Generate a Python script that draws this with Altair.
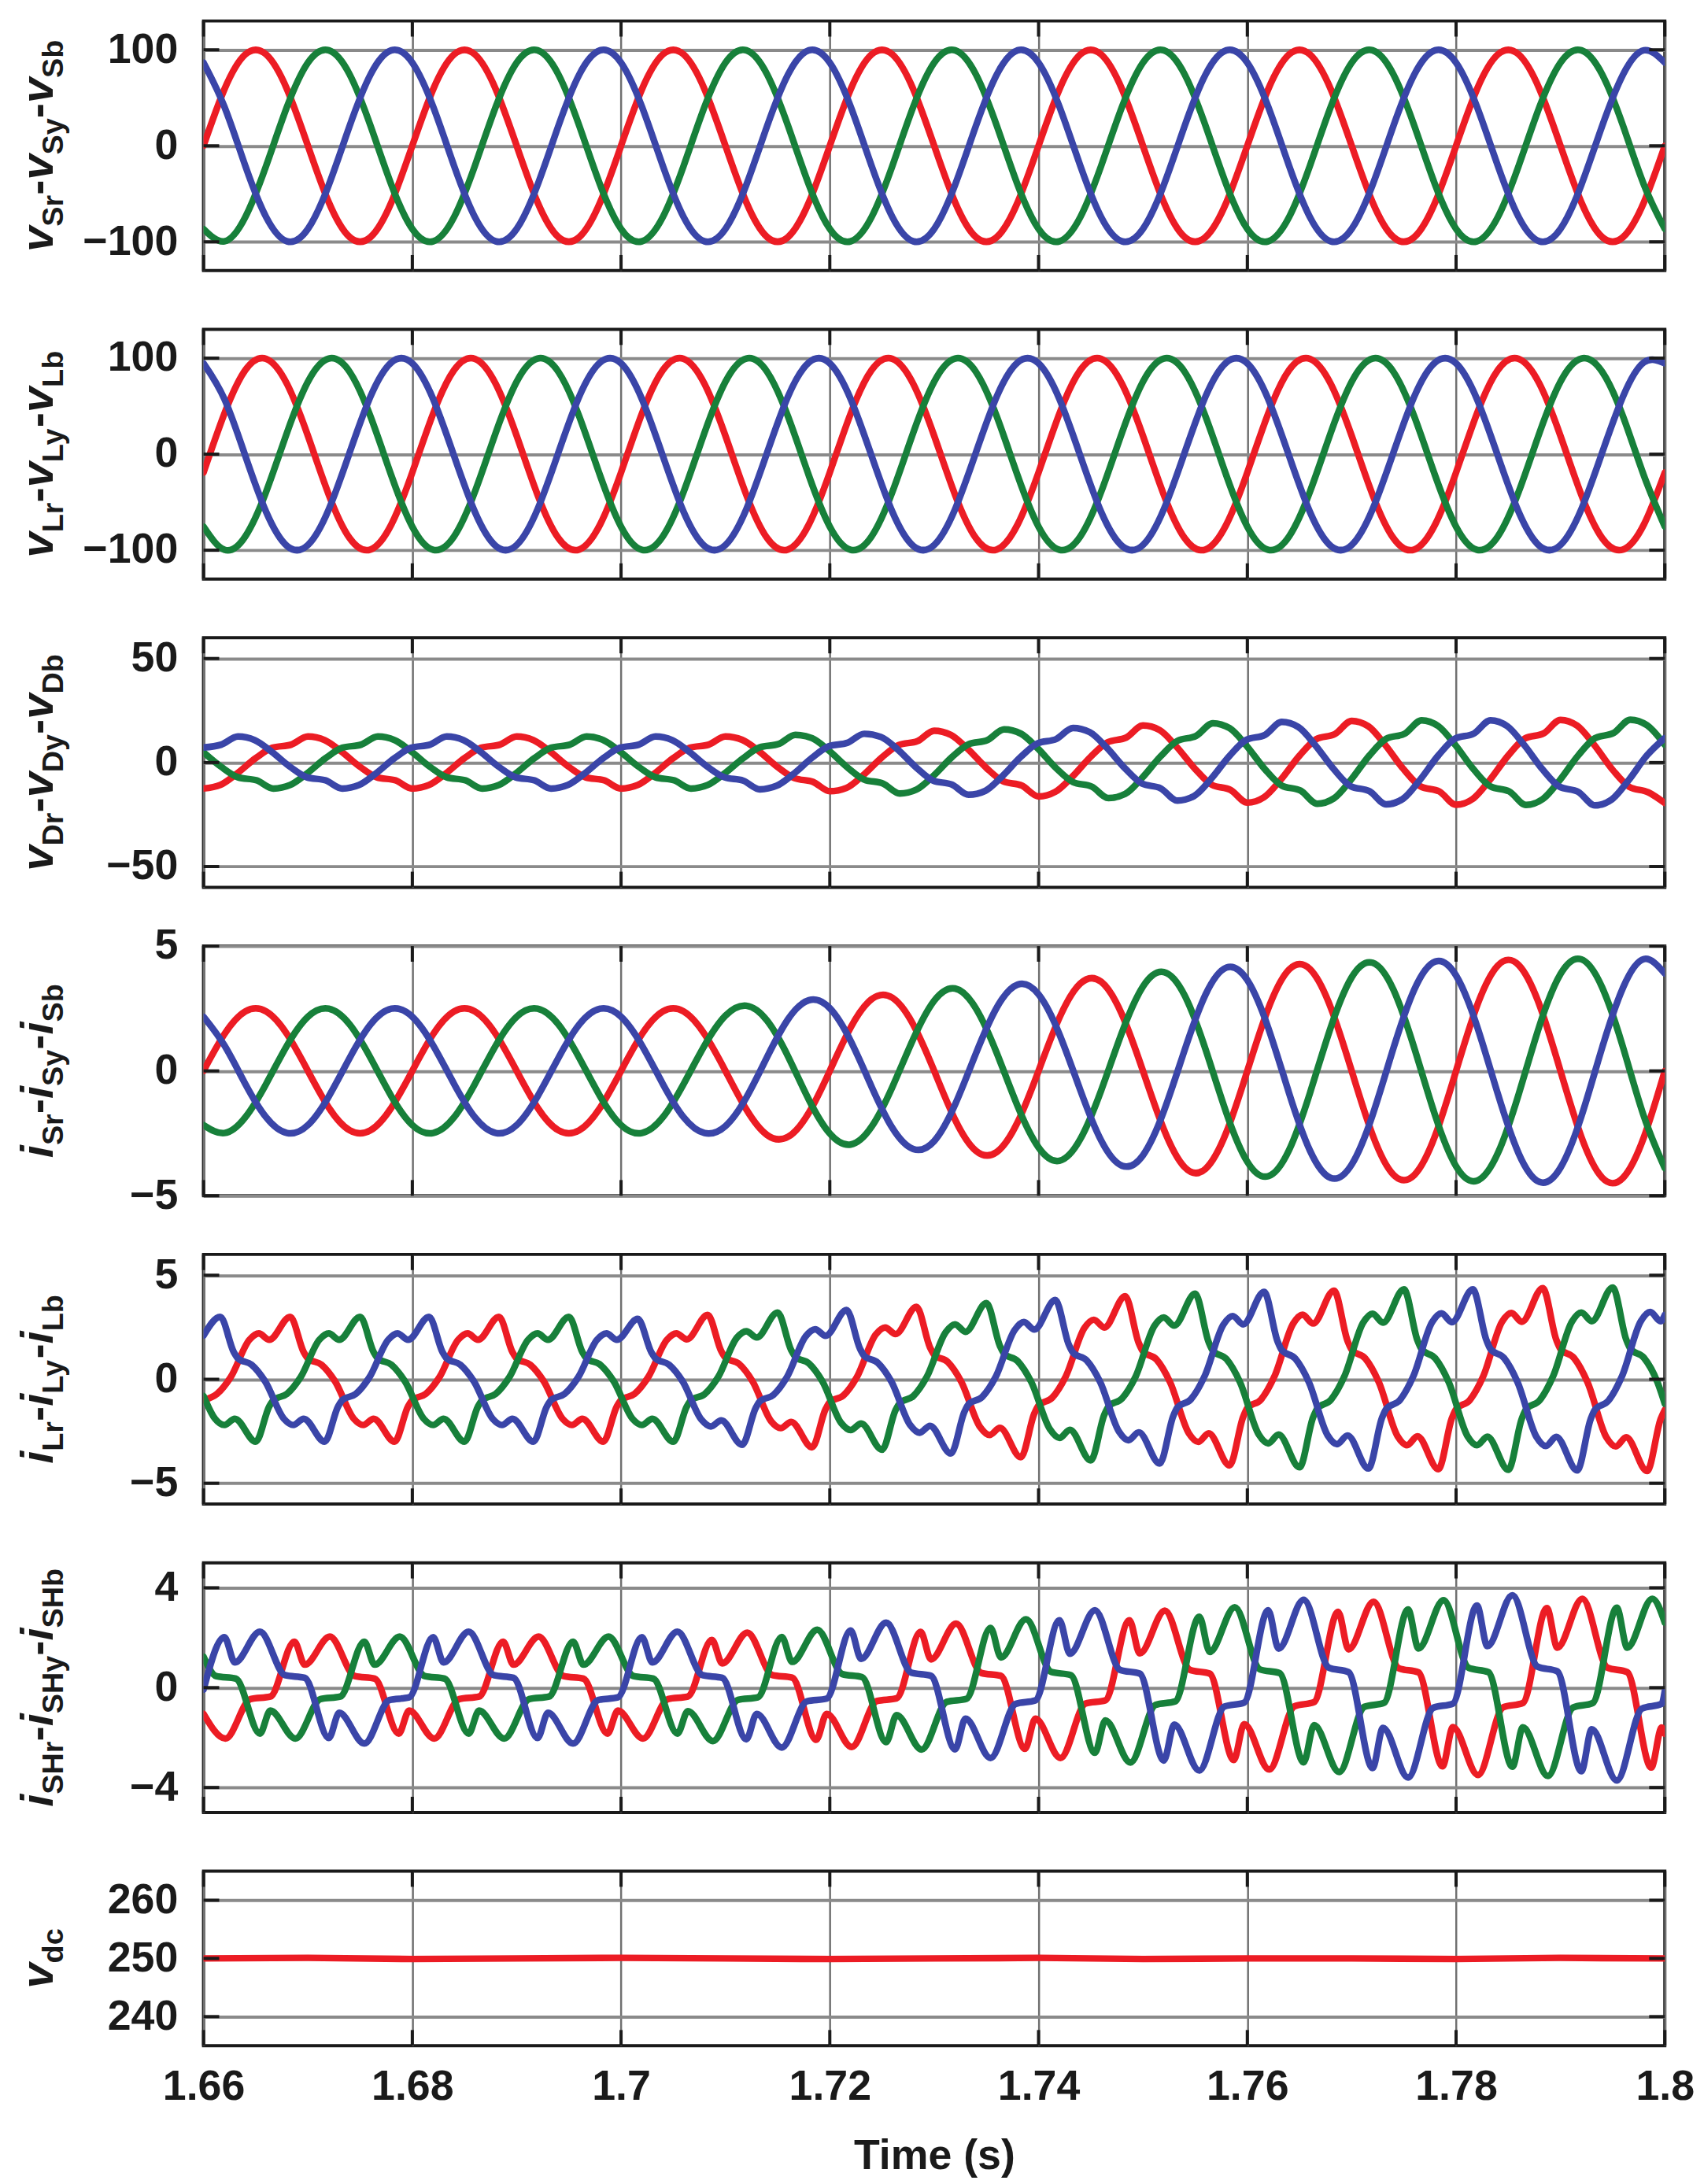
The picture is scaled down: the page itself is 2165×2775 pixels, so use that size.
import altair as alt
import pandas as pd

FONT = "Liberation Sans"
INK = "#1a1a1a"
RED, GREEN, BLUE = "#ec1c24", "#17803a", "#3a45a8"
GRID_X, GRID_Y = "#707070", "#8a8a8a"

T0 = 1.66
X_TICKS = [1.66, 1.68, 1.70, 1.72, 1.74, 1.76, 1.78, 1.80]

# ---------------- data (time in ms after 1.66 s) ----------------
T2_MS = [0, 2, 4, 6, 8, 10, 12, 14, 16, 18,
         20, 22, 24, 26, 28, 30, 32, 34, 36, 38,
         40, 42, 44, 46, 48, 50, 52, 54, 56, 58,
         60, 62, 64, 66, 68, 70, 72, 74, 76, 78,
         80, 82, 84, 86, 88, 90, 92, 94, 96, 98,
         100, 102, 104, 106, 108, 110, 112, 114, 116, 118,
         120, 122, 124, 126, 128, 130, 132, 134, 136, 138,
         140]

# source voltages vSr, vSy, vSb
VS_R = [0, 58.8, 95.1, 95.1, 58.8, 0, -58.8, -95.1, -95.1, -58.8,
        0, 58.8, 95.1, 95.1, 58.8, 0, -58.8, -95.1, -95.1, -58.8,
        0, 58.8, 95.1, 95.1, 58.8, 0, -58.8, -95.1, -95.1, -58.8,
        0, 58.8, 95.1, 95.1, 58.8, 0, -58.8, -95.1, -95.1, -58.8,
        0, 58.8, 95.1, 95.1, 58.8, 0, -58.8, -95.1, -95.1, -58.8,
        0, 58.8, 95.1, 95.1, 58.8, 0, -58.8, -95.1, -95.1, -58.8,
        0, 58.8, 95.1, 95.1, 58.8, 0, -58.8, -95.1, -95.1, -58.8,
        0]
VS_Y = [-86.6, -99.5, -74.3, -20.8, 40.7, 86.6, 99.5, 74.3, 20.8, -40.7,
        -86.6, -99.5, -74.3, -20.8, 40.7, 86.6, 99.5, 74.3, 20.8, -40.7,
        -86.6, -99.5, -74.3, -20.8, 40.7, 86.6, 99.5, 74.3, 20.8, -40.7,
        -86.6, -99.5, -74.3, -20.8, 40.7, 86.6, 99.5, 74.3, 20.8, -40.7,
        -86.6, -99.5, -74.3, -20.8, 40.7, 86.6, 99.5, 74.3, 20.8, -40.7,
        -86.6, -99.5, -74.3, -20.8, 40.7, 86.6, 99.5, 74.3, 20.8, -40.7,
        -86.6, -99.5, -74.3, -20.8, 40.7, 86.6, 99.5, 74.3, 20.8, -40.7,
        -86.6]
VS_B = [86.6, 40.7, -20.8, -74.3, -99.5, -86.6, -40.7, 20.8, 74.3, 99.5,
        86.6, 40.7, -20.8, -74.3, -99.5, -86.6, -40.7, 20.8, 74.3, 99.5,
        86.6, 40.7, -20.8, -74.3, -99.5, -86.6, -40.7, 20.8, 74.3, 99.5,
        86.6, 40.7, -20.8, -74.3, -99.5, -86.6, -40.7, 20.8, 74.3, 99.5,
        86.6, 40.7, -20.8, -74.3, -99.5, -86.6, -40.7, 20.8, 74.3, 99.5,
        86.6, 40.7, -20.8, -74.3, -99.5, -86.6, -40.7, 20.8, 74.3, 99.5,
        86.6, 40.7, -20.8, -74.3, -99.5, -86.6, -40.7, 20.8, 74.3, 99.5,
        86.6]

# load voltages vLr, vLy, vLb
VL_R = [-19.1, 42.3, 87.5, 99.3, 73.1, 19.1, -42.3, -87.5, -99.3, -73.1,
        -19.1, 42.3, 87.5, 99.3, 73.1, 19.1, -42.3, -87.5, -99.3, -73.1,
        -19.1, 42.3, 87.5, 99.3, 73.1, 19.1, -42.3, -87.5, -99.3, -73.1,
        -19.1, 42.3, 87.5, 99.3, 73.1, 19.1, -42.3, -87.5, -99.3, -73.1,
        -19.1, 42.3, 87.5, 99.3, 73.1, 19.1, -42.3, -87.5, -99.3, -73.1,
        -19.1, 42.3, 87.5, 99.3, 73.1, 19.1, -42.3, -87.5, -99.3, -73.1,
        -19.1, 42.3, 87.5, 99.3, 73.1, 19.1, -42.3, -87.5, -99.3, -73.1,
        -19.1]
VL_Y = [-75.5, -99.6, -85.7, -39.1, 22.5, 75.5, 99.6, 85.7, 39.1, -22.5,
        -75.5, -99.6, -85.7, -39.1, 22.5, 75.5, 99.6, 85.7, 39.1, -22.5,
        -75.5, -99.6, -85.7, -39.1, 22.5, 75.5, 99.6, 85.7, 39.1, -22.5,
        -75.5, -99.6, -85.7, -39.1, 22.5, 75.5, 99.6, 85.7, 39.1, -22.5,
        -75.5, -99.6, -85.7, -39.1, 22.5, 75.5, 99.6, 85.7, 39.1, -22.5,
        -75.5, -99.6, -85.7, -39.1, 22.5, 75.5, 99.6, 85.7, 39.1, -22.5,
        -75.5, -99.6, -85.7, -39.1, 22.5, 75.5, 99.6, 85.7, 39.1, -22.5,
        -75.5]
VL_B = [94.6, 57.4, -1.7, -60.2, -95.6, -94.6, -57.4, 1.7, 60.2, 95.6,
        94.6, 57.4, -1.7, -60.2, -95.6, -94.6, -57.4, 1.7, 60.2, 95.6,
        94.6, 57.4, -1.7, -60.2, -95.6, -94.6, -57.4, 1.7, 60.2, 95.6,
        94.6, 57.4, -1.7, -60.2, -95.6, -94.6, -57.4, 1.7, 60.2, 95.6,
        94.6, 57.4, -1.7, -60.2, -95.6, -94.6, -57.4, 1.7, 60.2, 95.6,
        94.6, 57.4, -1.7, -60.2, -95.6, -94.6, -57.4, 1.7, 60.2, 95.6,
        94.6, 57.4, -1.7, -60.2, -95.6, -94.6, -57.4, 1.7, 60.2, 95.6,
        94.6]

# source currents iSr, iSy, iSb
IS_R = [0, 1.47, 2.38, 2.38, 1.47, 0, -1.47, -2.38, -2.38, -1.47,
        0, 1.47, 2.38, 2.38, 1.47, 0, -1.47, -2.38, -2.38, -1.47,
        0, 1.47, 2.38, 2.38, 1.47, 0, -1.54, -2.57, -2.64, -1.67,
        0, 1.74, 2.87, 2.93, 1.85, 0, -1.95, -3.2, -3.25, -2.05,
        0, 2.13, 3.5, 3.57, 2.25, 0, -2.34, -3.86, -3.92, -2.45,
        0, 2.49, 4.06, 4.08, 2.53, 0, -2.56, -4.16, -4.17, -2.59,
        0, 2.6, 4.22, 4.24, 2.63, 0, -2.64, -4.28, -4.28, -2.65,
        0]
IS_Y = [-2.17, -2.49, -1.86, -0.52, 1.02, 2.17, 2.49, 1.86, 0.52, -1.02,
        -2.17, -2.49, -1.86, -0.52, 1.02, 2.17, 2.49, 1.86, 0.52, -1.02,
        -2.17, -2.49, -1.86, -0.52, 1.02, 2.21, 2.61, 2.01, 0.58, -1.16,
        -2.51, -2.95, -2.24, -0.64, 1.28, 2.81, 3.3, 2.5, 0.71, -1.42,
        -3.07, -3.6, -2.73, -0.78, 1.55, 3.38, 3.96, 3.02, 0.86, -1.69,
        -3.64, -4.22, -3.17, -0.89, 1.75, 3.75, 4.33, 3.25, 0.91, -1.79,
        -3.82, -4.4, -3.3, -0.93, 1.82, 3.88, 4.47, 3.34, 0.94, -1.83,
        -3.9]
IS_B = [2.17, 1.02, -0.52, -1.86, -2.49, -2.17, -1.02, 0.52, 1.86, 2.49,
        2.17, 1.02, -0.52, -1.86, -2.49, -2.17, -1.02, 0.52, 1.86, 2.49,
        2.17, 1.02, -0.52, -1.86, -2.49, -2.21, -1.07, 0.56, 2.07, 2.83,
        2.51, 1.2, -0.63, -2.29, -3.13, -2.81, -1.35, 0.7, 2.54, 3.46,
        3.07, 1.47, -0.77, -2.79, -3.8, -3.38, -1.62, 0.84, 3.06, 4.14,
        3.64, 1.73, -0.89, -3.19, -4.29, -3.75, -1.77, 0.91, 3.26, 4.38,
        3.82, 1.8, -0.92, -3.31, -4.45, -3.88, -1.83, 0.94, 3.34, 4.48,
        3.9]

# series-compensator voltages vDr, vDy, vDb  [ms, value]
VD_R = [[0.0, -12.5], [1.6, -10.8], [3.2, -5.3], [5.0, 2.1], [6.6, 7.1], [8.4, 8.6], [10.0, 12.5], [11.6, 10.8], [13.2, 5.3], [15.0, -2.1], [16.6, -7.1], [18.4, -8.6],
        [20.0, -12.5], [21.6, -10.8], [23.2, -5.3], [25.0, 2.1], [26.6, 7.1], [28.4, 8.6], [30.0, 12.5], [31.6, 10.8], [33.2, 5.3], [35.0, -2.1], [36.6, -7.1], [38.4, -8.6],
        [40.0, -12.5], [41.6, -10.8], [43.2, -5.3], [45.0, 2.1], [46.6, 7.1], [48.4, 8.6], [50.0, 12.5], [51.6, 10.9], [53.2, 5.5], [55.0, -2.2], [56.6, -7.5], [58.4, -9.3],
        [60.0, -13.8], [61.6, -12.2], [63.2, -6.1], [65.0, 2.5], [66.6, 8.4], [68.4, 10.3], [70.0, 15.3], [71.6, 13.3], [73.2, 6.6], [75.0, -2.6], [76.6, -9.0], [78.4, -11.1],
        [80.0, -16.3], [81.6, -14.1], [83.2, -7.0], [85.0, 2.8], [86.6, 9.7], [88.4, 12.0], [90.0, 17.8], [91.6, 15.6], [93.2, 7.7], [95.0, -3.1], [96.6, -10.7], [98.4, -13.2],
        [100.0, -19.3], [101.6, -16.7], [103.2, -8.3], [105.0, 3.3], [106.6, 11.2], [108.4, 13.7], [110.0, 20.0], [111.6, 17.4], [113.2, 8.5], [115.0, -3.4], [116.6, -11.5], [118.4, -13.9],
        [120.0, -20.3], [121.6, -17.5], [123.2, -8.6], [125.0, 3.4], [126.6, 11.6], [128.4, 14.0], [130.0, 20.5], [131.6, 17.7], [133.2, 8.7], [135.0, -3.5], [136.6, -11.7], [138.4, -14.3],
        [140.0, -19.5]]
VD_Y = [[0.0, 4.9], [1.7, -2.1], [3.3, -7.1], [5.1, -8.6], [6.7, -12.5], [8.3, -10.8], [9.9, -5.3], [11.7, 2.1], [13.3, 7.1], [15.1, 8.6], [16.7, 12.5], [18.3, 10.8], [19.9, 5.3],
        [21.7, -2.1], [23.3, -7.1], [25.1, -8.6], [26.7, -12.5], [28.3, -10.8], [29.9, -5.3], [31.7, 2.1], [33.3, 7.1], [35.1, 8.6], [36.7, 12.5], [38.3, 10.8], [39.9, 5.3],
        [41.7, -2.1], [43.3, -7.1], [45.1, -8.6], [46.7, -12.5], [48.3, -10.8], [49.9, -5.3], [51.7, 2.1], [53.3, 7.3], [55.1, 8.9], [56.7, 13.3], [58.3, 11.7], [59.9, 5.8],
        [61.7, -2.4], [63.3, -8.2], [65.1, -10.1], [66.7, -14.9], [68.3, -13.0], [69.9, -6.5], [71.7, 2.6], [73.3, 8.8], [75.1, 10.8], [76.7, 15.9], [78.3, 13.9], [79.9, 6.9],
        [81.7, -2.8], [83.3, -9.4], [85.1, -11.6], [86.7, -17.1], [88.3, -15.1], [89.9, -7.5], [91.7, 3.0], [93.3, 10.4], [95.1, 12.8], [96.7, 18.9], [98.3, 16.5], [99.9, 8.2],
        [101.7, -3.3], [103.3, -11.1], [105.1, -13.5], [106.7, -19.8], [108.3, -17.2], [109.9, -8.5], [111.7, 3.4], [113.3, 11.4], [115.1, 13.9], [116.7, 20.3], [118.3, 17.5], [119.9, 8.6],
        [121.7, -3.4], [123.3, -11.5], [125.1, -13.9], [126.7, -20.4], [128.3, -17.6], [129.9, -8.7], [131.7, 3.4], [133.3, 11.7], [135.1, 14.2], [136.7, 20.6], [138.3, 17.9], [140.0, 8.5]]
VD_B = [[0.0, 7.2], [1.7, 8.6], [3.3, 12.5], [4.9, 10.8], [6.5, 5.3], [8.3, -2.1], [9.9, -7.1], [11.7, -8.6], [13.3, -12.5], [14.9, -10.8], [16.5, -5.3], [18.3, 2.1], [19.9, 7.1],
        [21.7, 8.6], [23.3, 12.5], [24.9, 10.8], [26.5, 5.3], [28.3, -2.1], [29.9, -7.1], [31.7, -8.6], [33.3, -12.5], [34.9, -10.8], [36.5, -5.3], [38.3, 2.1], [39.9, 7.1],
        [41.7, 8.6], [43.3, 12.5], [44.9, 10.8], [46.5, 5.3], [48.3, -2.1], [49.9, -7.1], [51.7, -8.7], [53.3, -12.9], [54.9, -11.2], [56.5, -5.6], [58.3, 2.3], [59.9, 7.8],
        [61.7, 9.5], [63.3, 13.8], [64.9, 12.3], [66.5, 6.3], [68.3, -2.5], [69.9, -8.7], [71.7, -10.6], [73.3, -15.5], [74.9, -13.6], [76.5, -6.7], [78.3, 2.7], [79.9, 9.2],
        [81.7, 11.3], [83.3, 16.6], [84.9, 14.6], [86.5, 7.3], [88.3, -2.9], [89.9, -10.1], [91.7, -12.4], [93.3, -18.3], [94.9, -16.1], [96.5, -8.0], [98.3, 3.2], [99.9, 10.9],
        [101.7, 13.3], [103.3, 19.5], [104.9, 17.0], [106.5, 8.4], [108.3, -3.3], [109.9, -11.4], [111.7, -13.8], [113.3, -20.1], [114.9, -17.5], [116.5, -8.6], [118.3, 3.4], [119.9, 11.5],
        [121.7, 13.9], [123.3, 20.3], [124.9, 17.5], [126.5, 8.6], [128.3, -3.4], [129.9, -11.6], [131.7, -14.1], [133.3, -20.6], [134.9, -17.8], [136.5, -8.7], [138.3, 3.5], [140.0, 11.8]]

# load currents iLr, iLy, iLb  [ms, value]
IL_R = [[0.0, -1.0], [1.3, -0.7], [2.6, 0.1], [4.4, 1.9], [5.3, 2.2], [6.3, 1.9], [8.3, 3.0], [9.6, 1.3], [10.0, 1.0], [11.3, 0.7], [12.6, -0.1], [14.4, -1.9], [15.3, -2.2], [16.3, -1.9], [18.3, -3.0], [19.6, -1.3],
        [20.0, -1.0], [21.3, -0.7], [22.6, 0.1], [24.4, 1.9], [25.3, 2.2], [26.3, 1.9], [28.3, 3.0], [29.6, 1.3], [30.0, 1.0], [31.3, 0.7], [32.6, -0.1], [34.4, -1.9], [35.3, -2.2], [36.3, -1.9], [38.3, -3.0], [39.6, -1.3],
        [40.0, -1.0], [41.3, -0.7], [42.6, 0.1], [44.4, 1.9], [45.3, 2.2], [46.3, 1.92], [48.3, 3.09], [49.6, 1.35], [50.0, 1.04], [51.3, 0.74], [52.6, -0.1], [54.4, -2.03], [55.3, -2.35], [56.3, -2.05], [58.3, -3.27], [59.6, -1.43],
        [60.0, -1.1], [61.3, -0.78], [62.6, 0.11], [64.4, 2.15], [65.3, 2.49], [66.3, 2.17], [68.3, 3.48], [69.6, 1.53], [70.0, 1.18], [71.3, 0.83], [72.6, -0.12], [74.4, -2.3], [75.3, -2.68], [76.3, -2.34], [78.3, -3.75], [79.6, -1.64],
        [80.0, -1.26], [81.3, -0.89], [82.6, 0.13], [84.4, 2.47], [85.3, 2.86], [86.3, 2.49], [88.3, 3.99], [89.6, 1.74], [90.0, 1.34], [91.3, 0.95], [92.6, -0.14], [94.4, -2.6], [95.3, -3.01], [96.3, -2.6], [98.3, -4.14], [99.6, -1.81],
        [100.0, -1.39], [101.3, -0.98], [102.6, 0.14], [104.4, 2.68], [105.3, 3.1], [106.3, 2.68], [108.3, 4.26], [109.6, 1.85], [110.0, 1.42], [111.3, 1.0], [112.6, -0.14], [114.4, -2.74], [115.3, -3.17], [116.3, -2.74], [118.3, -4.32], [119.6, -1.87],
        [120.0, -1.44], [121.3, -1.01], [122.6, 0.14], [124.4, 2.76], [125.3, 3.19], [126.3, 2.76], [128.3, 4.38], [129.6, 1.9], [130.0, 1.46], [131.3, 1.02], [132.6, -0.15], [134.4, -2.79], [135.3, -3.23], [136.3, -2.79], [138.3, -4.41], [139.6, -1.91],
        [140.0, -1.47]]
IL_Y = [[0.0, -0.8], [1.1, -1.9], [2.0, -2.2], [3.0, -1.9], [5.0, -3.0], [6.3, -1.3], [6.7, -1.0], [8.0, -0.7], [9.3, 0.1], [11.1, 1.9], [12.0, 2.2], [13.0, 1.9], [15.0, 3.0], [16.3, 1.3], [16.7, 1.0], [18.0, 0.7], [19.3, -0.1],
        [21.1, -1.9], [22.0, -2.2], [23.0, -1.9], [25.0, -3.0], [26.3, -1.3], [26.7, -1.0], [28.0, -0.7], [29.3, 0.1], [31.1, 1.9], [32.0, 2.2], [33.0, 1.9], [35.0, 3.0], [36.3, 1.3], [36.7, 1.0], [38.0, 0.7], [39.3, -0.1],
        [41.1, -1.9], [42.0, -2.2], [43.0, -1.9], [45.0, -3.0], [46.3, -1.31], [46.7, -1.01], [48.0, -0.72], [49.3, 0.1], [51.1, 2.0], [52.0, 2.31], [53.0, 2.01], [55.0, 3.21], [56.3, 1.4], [56.7, 1.08], [58.0, 0.76], [59.3, -0.11],
        [61.1, -2.11], [62.0, -2.44], [63.0, -2.13], [65.0, -3.39], [66.3, -1.48], [66.7, -1.15], [68.0, -0.81], [69.3, 0.12], [71.1, 2.26], [72.0, 2.64], [73.0, 2.28], [75.0, 3.66], [76.3, 1.6], [76.7, 1.23], [78.0, 0.87], [79.3, -0.13],
        [81.1, -2.41], [82.0, -2.82], [83.0, -2.43], [85.0, -3.9], [86.3, -1.7], [86.7, -1.31], [88.0, -0.92], [89.3, 0.13], [91.1, 2.57], [92.0, 2.97], [93.0, 2.58], [95.0, 4.11], [96.3, 1.78], [96.7, 1.37], [98.0, 0.97], [99.3, -0.14],
        [101.1, -2.66], [102.0, -3.08], [103.0, -2.66], [105.0, -4.23], [106.3, -1.83], [106.7, -1.41], [108.0, -0.99], [109.3, 0.14], [111.1, 2.72], [112.0, 3.15], [113.0, 2.72], [115.0, 4.32], [116.3, 1.87], [116.7, 1.44], [118.0, 1.01], [119.3, -0.14],
        [121.1, -2.74], [122.0, -3.17], [123.0, -2.76], [125.0, -4.35], [126.3, -1.89], [126.7, -1.45], [128.0, -1.02], [129.3, 0.15], [131.1, 2.77], [132.0, 3.21], [133.0, 2.79], [135.0, 4.41], [136.3, 1.91], [136.7, 1.47], [138.0, 1.03], [139.3, -0.15],
        [140.0, -1.18]]
IL_B = [[0.0, 2.1], [1.6, 3.0], [2.9, 1.3], [3.3, 1.0], [4.6, 0.7], [5.9, -0.1], [7.7, -1.9], [8.6, -2.2], [9.6, -1.9], [11.6, -3.0], [12.9, -1.3], [13.3, -1.0], [14.6, -0.7], [15.9, 0.1], [17.7, 1.9], [18.6, 2.2], [19.6, 1.9],
        [21.6, 3.0], [22.9, 1.3], [23.3, 1.0], [24.6, 0.7], [25.9, -0.1], [27.7, -1.9], [28.6, -2.2], [29.6, -1.9], [31.6, -3.0], [32.9, -1.3], [33.3, -1.0], [34.6, -0.7], [35.9, 0.1], [37.7, 1.9], [38.6, 2.2], [39.6, 1.9],
        [41.6, 2.9], [42.9, 1.3], [43.3, 1.0], [44.6, 0.7], [45.9, -0.1], [47.7, -1.94], [48.6, -2.27], [49.6, -1.98], [51.6, -3.15], [52.9, -1.38], [53.3, -1.06], [54.6, -0.75], [55.9, 0.11], [57.7, 2.07], [58.6, 2.4], [59.6, 2.09],
        [61.6, 3.33], [62.9, 1.46], [63.3, 1.12], [64.6, 0.79], [65.9, -0.11], [67.7, -2.2], [68.6, -2.57], [69.6, -2.24], [71.6, -3.57], [72.9, -1.56], [73.3, -1.2], [74.6, -0.85], [75.9, 0.12], [77.7, 2.36], [78.6, 2.75], [79.6, 2.39],
        [81.6, 3.81], [82.9, 1.66], [83.3, 1.28], [84.6, 0.91], [85.9, -0.13], [87.7, -2.51], [88.6, -2.93], [89.6, -2.55], [91.6, -4.05], [92.9, -1.77], [93.3, -1.36], [94.6, -0.96], [95.9, 0.14], [97.7, 2.62], [98.6, 3.04], [99.6, 2.64],
        [101.6, 4.2], [102.9, 1.82], [103.3, 1.4], [104.6, 0.99], [105.9, -0.14], [107.7, -2.7], [108.6, -3.12], [109.6, -2.7], [111.6, -4.29], [112.9, -1.86], [113.3, -1.43], [114.6, -1.01], [115.9, 0.14], [117.7, 2.74], [118.6, 3.17], [119.6, 2.74],
        [121.6, 4.32], [122.9, 1.89], [123.3, 1.45], [124.6, 1.02], [125.9, -0.15], [127.7, -2.77], [128.6, -3.21], [129.6, -2.77], [131.6, -4.38], [132.9, -1.91], [133.3, -1.47], [134.6, -1.03], [135.9, 0.15], [137.7, 2.79], [138.6, 3.23], [139.6, 2.79],
        [140.0, 3.09]]

# shunt-compensator currents iSHr, iSHy, iSHb  [ms, value]
ISH_R = [[0.0, -1.05], [2.1, -2.04], [4.5, -0.46], [6.4, -0.36], [8.7, 1.84], [9.7, 0.92], [12.1, 2.04], [14.5, 0.46], [16.4, 0.36], [18.7, -1.84], [19.7, -0.92],
         [22.1, -2.04], [24.5, -0.46], [26.4, -0.36], [28.7, 1.84], [29.7, 0.92], [32.1, 2.04], [34.5, 0.46], [36.4, 0.36], [38.7, -1.84], [39.7, -0.92],
         [42.1, -2.04], [44.5, -0.46], [46.4, -0.36], [48.7, 1.91], [49.7, 0.97], [52.1, 2.2], [54.5, 0.5], [56.4, 0.4], [58.7, -2.09], [59.7, -1.05],
         [62.1, -2.38], [64.5, -0.54], [66.4, -0.43], [68.7, 2.23], [69.7, 1.13], [72.1, 2.56], [74.5, 0.59], [76.4, 0.47], [78.7, -2.45], [79.7, -1.24],
         [82.1, -2.82], [84.5, -0.64], [86.4, -0.51], [88.7, 2.7], [89.7, 1.37], [92.1, 3.08], [94.5, 0.71], [96.4, 0.56], [98.7, -2.9], [99.7, -1.46],
         [102.1, -3.28], [104.5, -0.75], [106.4, -0.58], [108.7, 3.04], [109.7, 1.53], [112.1, 3.44], [114.5, 0.78], [116.4, 0.61], [118.7, -3.15], [119.7, -1.58],
         [122.1, -3.5], [124.5, -0.79], [126.4, -0.62], [128.7, 3.19], [129.7, 1.6], [132.1, 3.56], [134.5, 0.8], [136.4, 0.62], [138.7, -3.2], [139.7, -1.6], [140.0, -1.85]]
ISH_Y = [[0.0, 1.24], [1.2, 0.46], [3.1, 0.36], [5.4, -1.84], [6.4, -0.92], [8.8, -2.04], [11.2, -0.46], [13.1, -0.36], [15.4, 1.84], [16.4, 0.92], [18.8, 2.04],
         [21.2, 0.46], [23.1, 0.36], [25.4, -1.84], [26.4, -0.92], [28.8, -2.04], [31.2, -0.46], [33.1, -0.36], [35.4, 1.84], [36.4, 0.92], [38.8, 2.04],
         [41.2, 0.46], [43.1, 0.36], [45.4, -1.84], [46.4, -0.94], [48.8, -2.14], [51.2, -0.49], [53.1, -0.39], [55.4, 2.03], [56.4, 1.03], [58.8, 2.32],
         [61.2, 0.54], [63.1, 0.42], [65.4, -2.18], [66.4, -1.1], [68.8, -2.48], [71.2, -0.57], [73.1, -0.45], [75.4, 2.39], [76.4, 1.21], [78.8, 2.74],
         [81.2, 0.63], [83.1, 0.5], [85.4, -2.61], [86.4, -1.31], [88.8, -3.0], [91.2, -0.69], [93.1, -0.55], [95.4, 2.84], [96.4, 1.43], [98.8, 3.22],
         [101.2, 0.73], [103.1, 0.58], [105.4, -2.99], [106.4, -1.5], [108.8, -3.38], [111.2, -0.77], [113.1, -0.61], [115.4, 3.13], [116.4, 1.57], [118.8, 3.5],
         [121.2, 0.79], [123.1, 0.62], [125.4, -3.17], [126.4, -1.59], [128.8, -3.54], [131.2, -0.8], [133.1, -0.62], [135.4, 3.2], [136.4, 1.6], [138.8, 3.56], [140.0, 2.6]]
ISH_B = [[0.0, -0.08], [2.0, 2.02], [3.0, 1.01], [5.4, 2.24], [7.8, 0.5], [9.7, 0.39], [12.0, -2.02], [13.0, -1.01], [15.4, -2.24], [17.8, -0.5], [19.7, -0.39],
         [22.0, 2.02], [23.0, 1.01], [25.4, 2.24], [27.8, 0.5], [29.7, 0.39], [32.0, -2.02], [33.0, -1.01], [35.4, -2.24], [37.8, -0.5], [39.7, -0.39],
         [42.0, 2.02], [43.0, 1.01], [45.4, 2.24], [47.8, 0.5], [49.7, 0.39], [52.0, -2.07], [53.0, -1.05], [55.4, -2.4], [57.8, -0.55], [59.7, -0.44],
         [62.0, 2.29], [63.0, 1.15], [65.4, 2.6], [67.8, 0.6], [69.7, 0.47], [72.0, -2.47], [73.0, -1.24], [75.4, -2.82], [77.8, -0.65], [79.7, -0.51],
         [82.0, 2.7], [83.0, 1.36], [85.4, 3.1], [87.8, 0.71], [89.7, 0.56], [92.0, -2.92], [93.0, -1.48], [95.4, -3.32], [97.8, -0.76], [99.7, -0.6],
         [102.0, 3.1], [103.0, 1.56], [105.4, 3.52], [107.8, 0.8], [109.7, 0.62], [112.0, -3.22], [113.0, -1.61], [115.4, -3.6], [117.8, -0.81], [119.7, -0.64],
         [122.0, 3.29], [123.0, 1.66], [125.4, 3.7], [127.8, 0.84], [129.7, 0.65], [132.0, -3.35], [133.0, -1.67], [135.4, -3.72], [137.8, -0.84], [139.7, -0.65], [140.0, -0.13]]

# dc-link voltage
VDC_MS = [0, 10, 20, 30, 40, 50, 60, 70, 80, 90, 100, 110, 120, 130, 140]
VDC = [250.0, 250.1, 249.9, 250.0, 250.1, 250.0, 249.9, 250.0, 250.1, 249.9, 250.0, 250.0, 249.9, 250.1, 250.0]

# ---------------- layout / style ----------------
W = 1867
H = 319
H7 = 223
LW = 8.5
TICK_LEN = 20
LABEL_SIZE = 54
BIG, SUB, SUB_DY = 58, 38, 13
TITLE_X = -193
PAD_LEFT = 10

# Liberation Sans Bold advance widths (per em)
CW = {"v": 0.556, "i": 0.278, "S": 0.667, "r": 0.389, "y": 0.556, "b": 0.611,
      "L": 0.611, "D": 0.722, "H": 0.722, "d": 0.611, "c": 0.556, "-": 0.333}


def grid_frame(ms, vals):
    return pd.DataFrame({"t": [T0 + m / 1000 for m in ms], "v": vals})


def pair_frame(pairs):
    return pd.DataFrame({"t": [T0 + p[0] / 1000 for p in pairs], "v": [p[1] for p in pairs]})


def title_layers(parts, h):
    items = [(txt, kind, SUB if kind == "sub" else BIG) for txt, kind in parts]
    widths = [sum(CW[c] for c in txt) * size for txt, kind, size in items]
    y = h / 2 + sum(widths) / 2
    out = []
    for (txt, kind, size), w in zip(items, widths):
        out.append(
            alt.Chart(alt.Data(values=[{"k": 0}])).mark_text(
                text=txt, angle=270, align="left", baseline="alphabetic",
                font=FONT, fontSize=size, fontWeight="bold",
                fontStyle="italic" if kind == "big" else "normal",
                dy=SUB_DY if kind == "sub" else 0, color=INK,
            ).encode(x=alt.value(TITLE_X), y=alt.value(y))
        )
        y -= w
    return out


def build_panel(series, ydom, yvals, h, parts, interp, last=False):
    xs = alt.Scale(domain=[1.66, 1.80], nice=False, zero=False)
    ys = alt.Scale(domain=ydom, nice=False, zero=False)
    if last:
        xaxis = alt.Axis(values=X_TICKS, format=".2~f", grid=True, gridColor=GRID_X, gridWidth=2.5,
                         ticks=False, tickSize=0, domain=False,
                         labelFont=FONT, labelFontSize=LABEL_SIZE, labelFontWeight="bold", labelColor=INK,
                         labelPadding=26, labelFlush=False, labelOverlap=False,
                         title="Time (s)", titleFont=FONT, titleFontSize=LABEL_SIZE, titleFontWeight="bold",
                         titleColor=INK, titlePadding=34)
    else:
        xaxis = alt.Axis(values=X_TICKS, grid=True, gridColor=GRID_X, gridWidth=2.5,
                         labels=False, ticks=False, tickSize=0, domain=False, title=None)
    yaxis = alt.Axis(values=yvals, format="d", grid=True, gridColor=GRID_Y, gridWidth=4,
                     ticks=False, tickSize=0, domain=False,
                     labelFont=FONT, labelFontSize=LABEL_SIZE, labelFontWeight="bold", labelColor=INK,
                     labelPadding=33, labelFlush=False, labelOverlap=False, title=None)
    X = alt.X("t:Q", scale=xs, axis=xaxis)
    Y = alt.Y("v:Q", scale=ys, axis=yaxis)
    layers = []
    for df, col in series:
        layers.append(
            alt.Chart(df).mark_line(color=col, strokeWidth=LW, interpolate=interp, clip=True,
                                    strokeJoin="round", strokeCap="round").encode(x=X, y=Y)
        )
    yt = pd.DataFrame({"v": yvals})
    xt = pd.DataFrame({"t": X_TICKS})
    layers.append(alt.Chart(yt).mark_rule(color=INK, strokeWidth=4).encode(
        y=Y, x=alt.value(0), x2=alt.value(TICK_LEN)))
    layers.append(alt.Chart(yt).mark_rule(color=INK, strokeWidth=4).encode(
        y=Y, x=alt.value(W - TICK_LEN), x2=alt.value(W)))
    layers.append(alt.Chart(xt).mark_rule(color=INK, strokeWidth=4).encode(
        x=X, y=alt.value(0), y2=alt.value(TICK_LEN)))
    layers.append(alt.Chart(xt).mark_rule(color=INK, strokeWidth=4).encode(
        x=X, y=alt.value(h - TICK_LEN), y2=alt.value(h)))
    layers += title_layers(parts, h)
    return alt.layer(*layers).properties(width=W, height=h)


def three(sym, sub):
    return [(sym, "big"), (sub + "r", "sub"), ("-", "dash"),
            (sym, "big"), (sub + "y", "sub"), ("-", "dash"),
            (sym, "big"), (sub + "b", "sub")]


p1 = build_panel([(grid_frame(T2_MS, VS_R), RED), (grid_frame(T2_MS, VS_Y), GREEN), (grid_frame(T2_MS, VS_B), BLUE)],
                 [-130, 130], [-100, 0, 100], H, three("v", "S"), "natural")
p2 = build_panel([(grid_frame(T2_MS, VL_R), RED), (grid_frame(T2_MS, VL_Y), GREEN), (grid_frame(T2_MS, VL_B), BLUE)],
                 [-130, 130], [-100, 0, 100], H, three("v", "L"), "natural")
p3 = build_panel([(pair_frame(VD_R), RED), (pair_frame(VD_Y), GREEN), (pair_frame(VD_B), BLUE)],
                 [-60, 60], [-50, 0, 50], H, three("v", "D"), "monotone")
p4 = build_panel([(grid_frame(T2_MS, IS_R), RED), (grid_frame(T2_MS, IS_Y), GREEN), (grid_frame(T2_MS, IS_B), BLUE)],
                 [-5, 5], [-5, 0, 5], H, three("i", "S"), "natural")
p5 = build_panel([(pair_frame(IL_R), RED), (pair_frame(IL_Y), GREEN), (pair_frame(IL_B), BLUE)],
                 [-6, 6], [-5, 0, 5], H, three("i", "L"), "monotone")
p6 = build_panel([(pair_frame(ISH_R), RED), (pair_frame(ISH_Y), GREEN), (pair_frame(ISH_B), BLUE)],
                 [-5, 5], [-4, 0, 4], H, three("i", "SH"), "monotone")
p7 = build_panel([(grid_frame(VDC_MS, VDC), RED)],
                 [235, 265], [240, 250, 260], H7, [("v", "big"), ("dc", "sub")], "linear", last=True)

chart = alt.vconcat(p1, p2, p3, p4, p5, p6, p7, spacing=75, bounds="flush").properties(
    padding={"left": PAD_LEFT, "top": 7, "right": 2, "bottom": 0}
).configure_view(stroke=INK, strokeWidth=4)

chart.save("out.html", embed_options={"renderer": "svg", "actions": False})
